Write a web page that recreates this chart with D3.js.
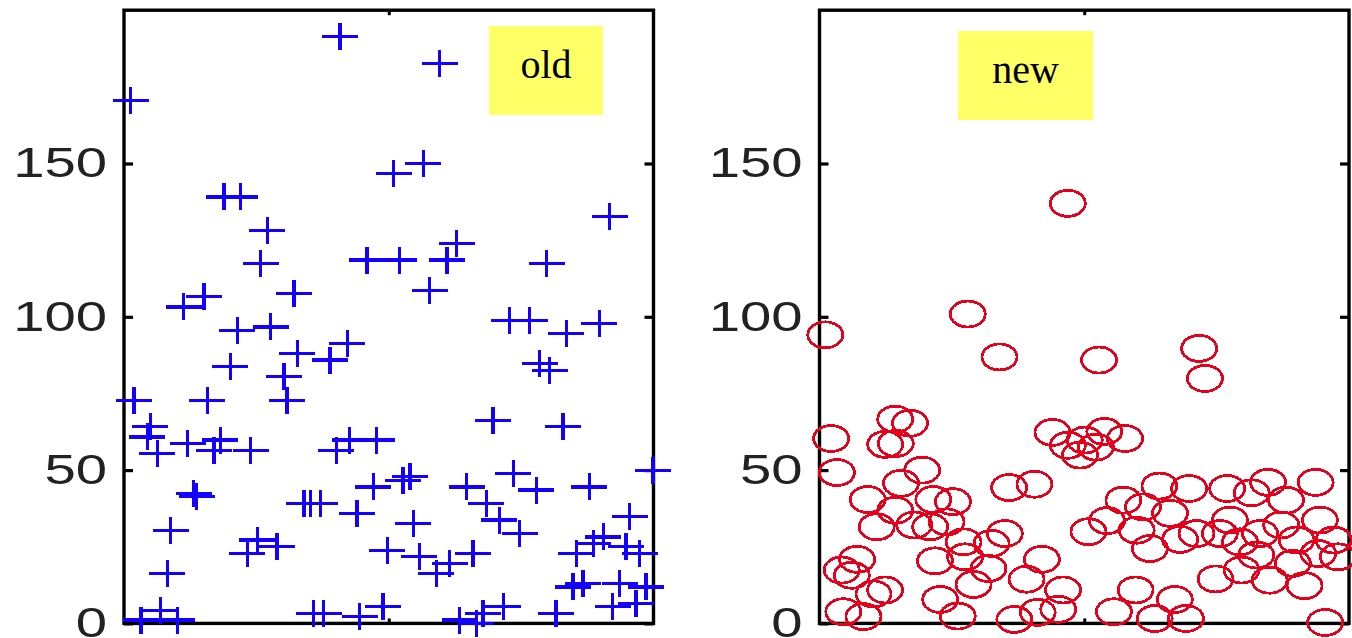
<!DOCTYPE html>
<html>
<head>
<meta charset="utf-8">
<script src="https://d3js.org/d3.v7.min.js"></script>
<style>
  body { margin: 0; background: #fff; }
</style>
</head>
<body>
<svg width="1352" height="638"></svg>
<script>

// points (x in 0-100, y in 0-200)
var oldX = [40.8, 1.3, 18.9, 22.0, 27.1, 25.8, 50.9, 45.9, 52.0, 32.1, 15.1, 11.3, 59.6, 56.5, 91.7, 62.8, 61.0, 79.8, 57.7,
            21.4, 27.7, 32.7, 42.2, 38.9, 20.1, 30.2, 1.9, 15.7, 30.8, 5.0, 4.4, 6.3, 12.0, 18.2, 17.0, 23.9, 42.6, 47.7, 40.1,
            13.2, 13.7, 34.0, 35.2, 37.1, 44.0, 47.1, 8.8, 25.2, 28.9, 23.3, 49.7, 8.2, 3.2, 6.9, 10.1, 35.8, 37.7, 44.5, 48.9,
            72.8, 76.6, 83.5, 89.8, 78.5, 80.4, 69.7, 82.9, 52.7, 54.0, 64.7, 73.5, 77.9, 87.9, 99.9, 68.4, 70.9, 74.7, 54.6, 95.5,
            55.8, 59.0, 61.5, 65.9, 90.5, 88.6, 85.4, 94.8, 97.4, 84.8, 86.7, 93.6, 98.6, 92.3, 96.7, 63.4, 66.5, 67.8, 71.6, 81.6];
var oldY = [191.3, 170.6, 139.1, 139.1, 128.2, 117.4, 146.7, 118.5, 118.5, 107.6, 106.5, 103.2, 182.6, 150.0, 132.6, 123.9, 118.5, 117.4, 108.7,
            95.6, 96.7, 88.0, 91.3, 85.9, 83.7, 80.4, 72.8, 72.8, 72.8, 64.1, 60.8, 55.4, 58.7, 59.8, 56.5, 56.5, 59.8, 59.8, 56.5,
            42.4, 41.5, 39.1, 39.1, 39.1, 35.9, 44.5, 30.4, 27.2, 25.0, 22.8, 23.9, 16.3, 1.1, 4.3, 1.1, 3.3, 3.3, 2.2, 5.4,
            98.9, 98.9, 94.6, 97.8, 84.8, 82.6, 66.3, 64.1, 46.7, 47.8, 44.5, 48.9, 43.5, 44.5, 50.0, 39.1, 33.7, 29.3, 32.6, 34.8,
            21.7, 16.3, 19.6, 22.8, 28.2, 26.1, 22.8, 25.0, 22.8, 11.9, 13.0, 13.0, 11.9, 5.4, 6.5, 1.1, 0.0, 3.3, 5.4, 3.3];

var newX = [46.9, 28.0, 1.1, 34.0, 52.8, 71.7, 72.8, 14.3, 17.1, 12.4, 14.4, 2.2, 3.3, 19.4, 15.4, 9.1, 25.2, 21.5, 14.3,
            10.8, 17.9, 24.0, 35.0, 35.8, 40.6, 32.5, 27.5, 21.8, 31.9, 29.1, 39.1, 42.0, 46.0, 7.1, 4.2, 6.1, 10.2, 4.5, 8.3,
            22.8, 26.1, 36.8, 41.2, 45.1, 44.0, 46.9, 49.2, 50.1, 52.2, 53.8, 57.7,
            64.2, 69.8, 77.0, 84.7, 93.7, 88.1, 81.6, 57.4, 66.2, 61.1, 54.3, 50.8, 59.9, 68.1, 71.2, 75.6, 79.4, 83.2, 87.2,
            90.1, 97.1, 94.2, 97.9, 82.5, 74.8, 79.7, 85.0, 91.6, 89.4, 59.7, 67.1, 55.6, 63.3, 69.2, 95.5,
            27.2, 20.9, 12.4, 62.4, 77.5, 94.5];
var newY = [137.0, 100.9, 94.1, 86.9, 85.9, 89.7, 79.9, 66.6, 65.3, 58.4, 58.7, 60.3, 49.2, 50.0, 45.7, 40.4, 39.7, 40.4, 36.9,
            31.5, 32.1, 33.1, 29.3, 44.3, 45.4, 26.1, 21.7, 20.4, 17.9, 12.7, 14.4, 20.9, 10.9, 20.9, 17.4, 15.7, 9.6, 3.8, 2.2,
            7.8, 2.4, 1.3, 3.6, 4.6, 62.3, 58.1, 54.9, 59.8, 57.5, 62.6, 60.3,
            44.8, 44.0, 44.0, 46.0, 46.0, 40.2, 42.6, 40.2, 35.9, 38.0, 33.5, 29.9, 30.4, 27.4, 29.3, 29.3, 26.6, 29.3, 32.1,
            27.2, 27.2, 22.8, 21.7, 22.3, 14.5, 17.4, 14.1, 12.3, 19.6, 10.9, 7.8, 3.8, 1.6, 1.6, 0.3,
            26.6, 31.5, 10.9, 24.4, 33.7, 33.7];

var yTicks = [0, 50, 100, 150];
var labels = ["old", "new"];

var svg = d3.select("svg");
svg.append("rect").attr("width", 1352).attr("height", 638).attr("fill", "#fff");

var panelW = 529.5, plotTop = 10.2, plotBottom = 623.4;
var panels = [
  {x0: 124, xs: oldX, ys: oldY, kind: "plus", label: labels[0], box: [489, 26, 114, 89]},
  {x0: 819.5, xs: newX, ys: newY, kind: "circle", label: labels[1], box: [958, 31, 135, 89]}
];

var y = d3.scaleLinear().domain([0, 200]).range([plotBottom, plotTop]);

panels.forEach(function(p) {
  var x = d3.scaleLinear().domain([0, 100]).range([p.x0, p.x0 + panelW]);
  var g = svg.append("g");

  // y axis with labels, ticks pointing inside
  var ax = g.append("g").attr("transform", "translate(" + p.x0 + ",0)")
    .call(d3.axisLeft(y).tickValues(yTicks).tickSize(-9).tickSizeOuter(0).tickPadding(17));
  ax.select(".domain").remove();
  ax.selectAll("line").attr("stroke", "#000").attr("stroke-width", 3.2);
  ax.selectAll("text")
    .attr("x", -17 / 1.34)
    .attr("transform", "scale(1.34,1)")
    .attr("fill", "#222")
    .style("font-family", "'Liberation Sans', Arial, sans-serif")
    .style("font-size", "42px");

  var axr = g.append("g").attr("transform", "translate(" + (p.x0 + panelW) + ",0)")
    .call(d3.axisRight(y).tickValues(yTicks).tickSize(-9).tickSizeOuter(0).tickFormat(""));
  axr.select(".domain").remove();
  axr.selectAll("line").attr("stroke", "#000").attr("stroke-width", 3.2);

  var axb = g.append("g").attr("transform", "translate(0," + plotBottom + ")")
    .call(d3.axisBottom(x).tickValues([50]).tickSize(-5).tickSizeOuter(0).tickFormat(""));
  axb.select(".domain").remove();
  axb.selectAll("line").attr("stroke", "#000").attr("stroke-width", 3);
  var axt = g.append("g").attr("transform", "translate(0," + plotTop + ")")
    .call(d3.axisTop(x).tickValues([50]).tickSize(-5).tickSizeOuter(0).tickFormat(""));
  axt.select(".domain").remove();
  axt.selectAll("line").attr("stroke", "#000").attr("stroke-width", 3);

  // frame
  g.append("rect")
    .attr("x", p.x0).attr("y", plotTop)
    .attr("width", panelW).attr("height", plotBottom - plotTop)
    .attr("fill", "none").attr("stroke", "#000").attr("stroke-width", 3.4);

  var pts = p.xs.map(function(v, i) { return {x: v, y: p.ys[i]}; });

  if (p.kind === "plus") {
    var m = g.append("g").selectAll("g").data(pts).join("g")
      .attr("transform", function(d) { return "translate(" + x(d.x) + "," + y(d.y) + ")"; })
      .attr("stroke", "#1400ff").attr("stroke-width", 3.2).attr("shape-rendering", "crispEdges");
    m.append("line").attr("x1", -18).attr("x2", 18).attr("y1", 0).attr("y2", 0);
    m.append("line").attr("x1", 0).attr("x2", 0).attr("y1", -13.5).attr("y2", 13.5);
  } else {
    g.append("g").selectAll("ellipse").data(pts).join("ellipse")
      .attr("cx", function(d) { return x(d.x); })
      .attr("cy", function(d) { return y(d.y); })
      .attr("rx", 17.5).attr("ry", 13)
      .attr("fill", "none").attr("stroke", "#e8001a").attr("stroke-width", 2.8)
      .attr("shape-rendering", "crispEdges");
  }

  // label box
  g.append("rect")
    .attr("x", p.box[0]).attr("y", p.box[1])
    .attr("width", p.box[2]).attr("height", p.box[3])
    .attr("fill", "#ffff66");
  g.append("text")
    .attr("x", p.box[0] + p.box[2] / 2).attr("y", p.box[1] + 52)
    .attr("text-anchor", "middle")
    .style("font-family", "'Liberation Serif', 'Times New Roman', serif")
    .style("font-size", "40px")
    .text(p.label);
});

</script>
</body>
</html>
